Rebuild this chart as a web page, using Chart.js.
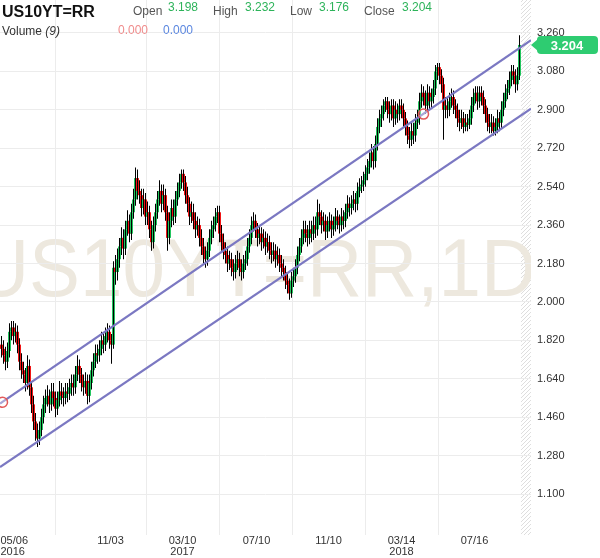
<!DOCTYPE html>
<html>
<head>
<meta charset="utf-8">
<script src="https://cdn.jsdelivr.net/npm/chart.js@4/dist/chart.umd.min.js"></script>
<style>
  html, body { margin: 0; padding: 0; background: #fff; }
  #wrap { position: relative; width: 600px; height: 558px; font-family: "Liberation Sans", Arial, sans-serif; }
  #wrap span { position: absolute; white-space: nowrap; font-size: 12px; line-height: 12px; }
  .lbl { color: #555; top: 5px; }
  .val { color: #2db35a; top: 1px; }
</style>
</head>
<body>
<div id="wrap">
  <canvas id="myChart" width="600" height="558"></canvas>
  <span style="left:2px;top:4px;font-size:16px;line-height:16px;font-weight:bold;color:#111">US10YT=RR</span>
  <span class="lbl" style="left:133px">Open</span><span class="val" style="left:168px">3.198</span>
  <span class="lbl" style="left:213px">High</span><span class="val" style="left:245px">3.232</span>
  <span class="lbl" style="left:290px">Low</span><span class="val" style="left:319px">3.176</span>
  <span class="lbl" style="left:364px">Close</span><span class="val" style="left:402px">3.204</span>
  <span style="left:2px;top:25px;color:#333">Volume <i>(9)</i></span>
  <span style="left:118px;top:24px;color:#f08c8c">0.000</span>
  <span style="left:163px;top:24px;color:#5b87e0">0.000</span>
</div>
<script>
/* DATA (one candle per ~2 trading days, May 2016 - Oct 2018) */

const firstOpen = 1.80

const closes = [
  1.78, 1.75, 1.72, 1.77, 1.86, 1.88, 1.84, 1.86, 1.80, 1.72,
  1.68, 1.66, 1.62, 1.70, 1.60, 1.52, 1.44, 1.40, 1.36, 1.40,
  1.46, 1.52, 1.55, 1.56, 1.52, 1.58, 1.55, 1.50, 1.54, 1.58,
  1.56, 1.55, 1.58, 1.57, 1.60, 1.62, 1.60, 1.66, 1.70, 1.66,
  1.62, 1.60, 1.63, 1.56, 1.62, 1.68, 1.72, 1.76, 1.75, 1.78,
  1.82, 1.80, 1.84, 1.86, 1.82, 1.80, 2.16, 2.14, 2.20, 2.26,
  2.30, 2.25, 2.34, 2.38, 2.32, 2.42, 2.48, 2.58, 2.52, 2.50,
  2.44, 2.48, 2.40, 2.42, 2.34, 2.28, 2.36, 2.42, 2.48, 2.52,
  2.46, 2.50, 2.42, 2.30, 2.38, 2.44, 2.40, 2.48, 2.52, 2.56,
  2.60, 2.56, 2.50, 2.46, 2.40, 2.42, 2.38, 2.34, 2.36, 2.30,
  2.26, 2.22, 2.20, 2.24, 2.30, 2.34, 2.36, 2.40, 2.42, 2.32,
  2.28, 2.24, 2.22, 2.18, 2.20, 2.16, 2.14, 2.18, 2.20, 2.16,
  2.14, 2.18, 2.20, 2.26, 2.30, 2.36, 2.38, 2.34, 2.30, 2.32,
  2.28, 2.30, 2.26, 2.28, 2.24, 2.22, 2.24, 2.20, 2.22, 2.18,
  2.16, 2.14, 2.10, 2.08, 2.04, 2.10, 2.12, 2.16, 2.22, 2.26,
  2.30, 2.34, 2.32, 2.30, 2.34, 2.32, 2.36, 2.34, 2.42, 2.40,
  2.36, 2.38, 2.33, 2.36, 2.38, 2.34, 2.36, 2.40, 2.38, 2.36,
  2.40, 2.38, 2.42, 2.46, 2.44, 2.46, 2.48, 2.46, 2.52, 2.54,
  2.55, 2.57, 2.60, 2.63, 2.66, 2.70, 2.66, 2.74, 2.82, 2.86,
  2.88, 2.92, 2.94, 2.90, 2.88, 2.92, 2.86, 2.90, 2.88, 2.92,
  2.90, 2.86, 2.82, 2.78, 2.76, 2.80, 2.78, 2.84, 2.86, 2.94,
  2.98, 2.96, 2.92, 2.98, 2.94, 2.96, 3.00, 3.08, 3.10, 3.06,
  3.02, 2.90, 2.92, 2.90, 2.94, 2.96, 2.92, 2.90, 2.86, 2.84,
  2.86, 2.82, 2.84, 2.83, 2.86, 2.92, 2.96, 2.98, 2.94, 2.98,
  2.96, 2.92, 2.88, 2.84, 2.82, 2.84, 2.80, 2.82, 2.86, 2.84,
  2.90, 2.94, 2.98, 3.00, 3.04, 3.08, 3.06, 3.02, 3.06, 3.204
]

const highs = [
  1.84, 1.82, 1.79, 1.81, 1.90, 1.91, 1.91, 1.90, 1.89, 1.83,
  1.76, 1.72, 1.69, 1.75, 1.73, 1.63, 1.56, 1.48, 1.43, 1.44,
  1.50, 1.56, 1.59, 1.61, 1.59, 1.62, 1.62, 1.58, 1.58, 1.63,
  1.62, 1.60, 1.62, 1.62, 1.64, 1.66, 1.66, 1.70, 1.75, 1.73,
  1.69, 1.66, 1.67, 1.66, 1.66, 1.72, 1.76, 1.80, 1.80, 1.82,
  1.86, 1.85, 1.88, 1.90, 1.89, 1.85, 2.19, 2.22, 2.25, 2.30,
  2.35, 2.34, 2.38, 2.43, 2.41, 2.46, 2.53, 2.63, 2.62, 2.57,
  2.53, 2.53, 2.51, 2.47, 2.45, 2.38, 2.40, 2.46, 2.52, 2.57,
  2.55, 2.55, 2.53, 2.45, 2.42, 2.48, 2.48, 2.52, 2.56, 2.60,
  2.62, 2.62, 2.59, 2.54, 2.49, 2.47, 2.46, 2.42, 2.40, 2.39,
  2.34, 2.30, 2.26, 2.28, 2.34, 2.38, 2.40, 2.44, 2.45, 2.45,
  2.36, 2.32, 2.28, 2.26, 2.24, 2.23, 2.20, 2.22, 2.24, 2.23,
  2.20, 2.22, 2.24, 2.30, 2.34, 2.40, 2.42, 2.41, 2.37, 2.36,
  2.35, 2.34, 2.33, 2.32, 2.31, 2.28, 2.28, 2.27, 2.26, 2.25,
  2.22, 2.20, 2.17, 2.14, 2.11, 2.14, 2.16, 2.20, 2.26, 2.30,
  2.34, 2.38, 2.38, 2.36, 2.38, 2.38, 2.40, 2.40, 2.48, 2.46,
  2.43, 2.42, 2.41, 2.40, 2.42, 2.41, 2.40, 2.44, 2.43, 2.41,
  2.44, 2.43, 2.46, 2.50, 2.49, 2.50, 2.52, 2.51, 2.56, 2.58,
  2.59, 2.61, 2.64, 2.67, 2.70, 2.74, 2.73, 2.78, 2.86, 2.90,
  2.92, 2.95, 2.96, 2.96, 2.94, 2.95, 2.95, 2.94, 2.93, 2.95,
  2.95, 2.93, 2.89, 2.85, 2.82, 2.84, 2.84, 2.88, 2.90, 2.98,
  3.02, 3.01, 2.99, 3.02, 3.01, 3.00, 3.04, 3.11, 3.12, 3.12,
  3.09, 3.05, 2.96, 2.96, 2.98, 3.00, 2.99, 2.95, 2.93, 2.90,
  2.90, 2.89, 2.88, 2.88, 2.90, 2.96, 3.00, 3.01, 3.01, 3.01,
  3.01, 2.99, 2.95, 2.91, 2.88, 2.88, 2.87, 2.86, 2.90, 2.89,
  2.94, 2.98, 3.02, 3.04, 3.08, 3.11, 3.11, 3.09, 3.10, 3.25
]

const lows = [
  1.74, 1.71, 1.68, 1.69, 1.74, 1.82, 1.80, 1.81, 1.76, 1.68,
  1.64, 1.62, 1.58, 1.59, 1.56, 1.48, 1.40, 1.35, 1.32, 1.33,
  1.37, 1.43, 1.48, 1.51, 1.48, 1.49, 1.51, 1.46, 1.47, 1.51,
  1.52, 1.51, 1.52, 1.53, 1.54, 1.56, 1.56, 1.57, 1.63, 1.62,
  1.58, 1.56, 1.57, 1.52, 1.53, 1.59, 1.65, 1.69, 1.71, 1.72,
  1.75, 1.76, 1.77, 1.81, 1.78, 1.71, 1.78, 2.08, 2.10, 2.16,
  2.22, 2.20, 2.22, 2.31, 2.28, 2.29, 2.39, 2.45, 2.48, 2.46,
  2.40, 2.41, 2.36, 2.36, 2.30, 2.24, 2.25, 2.33, 2.39, 2.45,
  2.42, 2.43, 2.38, 2.24, 2.27, 2.35, 2.36, 2.37, 2.45, 2.49,
  2.53, 2.52, 2.46, 2.42, 2.36, 2.37, 2.34, 2.30, 2.31, 2.26,
  2.22, 2.18, 2.16, 2.17, 2.21, 2.27, 2.30, 2.33, 2.37, 2.28,
  2.24, 2.20, 2.18, 2.14, 2.15, 2.12, 2.10, 2.11, 2.15, 2.12,
  2.10, 2.11, 2.15, 2.17, 2.23, 2.27, 2.33, 2.30, 2.26, 2.27,
  2.24, 2.25, 2.22, 2.23, 2.20, 2.18, 2.19, 2.16, 2.17, 2.14,
  2.12, 2.10, 2.06, 2.04, 2.01, 2.02, 2.07, 2.09, 2.13, 2.19,
  2.23, 2.27, 2.28, 2.26, 2.27, 2.28, 2.29, 2.30, 2.31, 2.36,
  2.32, 2.33, 2.29, 2.30, 2.33, 2.30, 2.31, 2.33, 2.34, 2.32,
  2.33, 2.34, 2.35, 2.39, 2.40, 2.41, 2.43, 2.42, 2.43, 2.49,
  2.51, 2.52, 2.54, 2.57, 2.60, 2.63, 2.62, 2.63, 2.71, 2.79,
  2.82, 2.85, 2.89, 2.86, 2.84, 2.85, 2.82, 2.83, 2.84, 2.85,
  2.86, 2.82, 2.78, 2.74, 2.72, 2.73, 2.74, 2.75, 2.81, 2.83,
  2.91, 2.92, 2.88, 2.89, 2.90, 2.91, 2.93, 2.97, 3.04, 3.02,
  2.98, 2.76, 2.86, 2.86, 2.87, 2.91, 2.88, 2.86, 2.82, 2.80,
  2.81, 2.79, 2.80, 2.80, 2.81, 2.83, 2.89, 2.93, 2.90, 2.91,
  2.92, 2.88, 2.84, 2.80, 2.79, 2.79, 2.78, 2.78, 2.79, 2.80,
  2.81, 2.87, 2.91, 2.95, 2.97, 3.01, 3.02, 2.98, 2.99, 3.04
]

// candle index of each date label
const dateTicks = [-0.5, 54.5, 90.5, 127.5, 163.5, 200, 236.5]
const dateLabels = [['05/06', '2016'], '11/03', ['03/10', '2017'], '07/10', '11/10', ['03/14', '2018'], '07/16']

const priceTicks = [1.100, 1.280, 1.460, 1.640, 1.820, 2.000, 2.180, 2.360, 2.540, 2.720, 2.900, 3.080, 3.260]

// trend channel, values at the left and right edge of the plot
const channelIdx = [-0.75, 264.75]
const upperChannel = [1.524, 3.226]
const lowerChannel = [1.226, 2.906]
// the two points the upper line was drawn through
const anchorIdx = [0.5, 211]
const anchorVals = [1.53, 2.88]

const lastPrice = 3.204

/* CHART */

const GREEN = '#22c55e', RED = '#f01414'
const opens = closes.map((c, i) => i ? closes[i - 1] : firstOpen)

const noPad = s => { s.paddingLeft = s.paddingRight = s.paddingTop = s.paddingBottom = 0 }

const backdrop = {
  id: 'backdrop',
  beforeDraw(chart) {
    const { ctx, chartArea: a, scales: { x } } = chart
    // hatched "future" strip
    const left = Math.round(x.getPixelForValue(closes.length - 0.5))
    ctx.save()
    ctx.beginPath()
    ctx.rect(left, a.top, a.right - left, a.bottom - a.top)
    ctx.clip()
    ctx.strokeStyle = '#dedede'
    ctx.lineWidth = 1
    for (let y = a.top - 20; y < a.bottom + 20; y += 4) {
      ctx.beginPath()
      ctx.moveTo(left, y + 14)
      ctx.lineTo(left + 14, y)
      ctx.stroke()
    }
    ctx.restore()

    // big symbol watermark
    ctx.save()
    ctx.beginPath()
    ctx.rect(a.left, a.top, a.right - a.left, a.bottom - a.top)
    ctx.clip()
    ctx.font = '82px "Liberation Sans", Arial, sans-serif'
    ctx.fillStyle = '#ede8de'
    ctx.fillText('US10YT=RR,1D', -26, 296, 562)
    ctx.restore()
  }
}

const priceTag = {
  id: 'priceTag',
  afterDraw(chart) {
    const { ctx, scales: { y } } = chart
    const py = Math.round(y.getPixelForValue(lastPrice))
    ctx.save()
    ctx.fillStyle = '#2ecc71'
    ctx.beginPath()
    ctx.roundRect(537, py - 9, 61, 18, 4)
    ctx.fill()
    ctx.beginPath()
    ctx.moveTo(531, py)
    ctx.lineTo(538, py - 6)
    ctx.lineTo(538, py + 6)
    ctx.closePath()
    ctx.fill()
    ctx.fillStyle = '#fff'
    ctx.font = 'bold 13px "Liberation Sans", Arial, sans-serif'
    ctx.textAlign = 'center'
    ctx.textBaseline = 'middle'
    ctx.fillText(lastPrice.toFixed(3), 567, py + 1)
    ctx.restore()
  }
}

var ctx = document.getElementById('myChart').getContext('2d');
var myChart = new Chart(ctx, {
  type: 'bar',
  data: {
    datasets: [
      {
        type: 'line',
        order: 0,
        data: anchorIdx.map((x, i) => ({ x: x, y: anchorVals[i] })),
        showLine: false,
        pointRadius: 5,
        pointBorderWidth: 1.5,
        pointBorderColor: '#e25a5a',
        pointBackgroundColor: 'rgba(255,255,255,0.35)'
      },
      {
        type: 'line',
        order: 1,
        data: channelIdx.map((x, i) => ({ x: x, y: upperChannel[i] })),
        borderColor: '#7b78c2',
        borderWidth: 2.2,
        pointRadius: 0
      },
      {
        type: 'line',
        order: 1,
        data: channelIdx.map((x, i) => ({ x: x, y: lowerChannel[i] })),
        borderColor: '#7b78c2',
        borderWidth: 2.2,
        pointRadius: 0
      },
      {
        // wicks, one pixel through the middle of each body
        order: 2,
        grouped: false,
        barThickness: 1,
        inflateAmount: 0,
        data: closes.map((c, i) => ({
          x: i,
          y: [Math.min(lows[i], opens[i], c), Math.max(highs[i], opens[i], c)]
        })),
        backgroundColor: '#000',
        borderWidth: 0
      },
      {
        // bodies
        order: 3,
        grouped: false,
        barThickness: 3,
        inflateAmount: 0,
        data: closes.map((c, i) => ({ x: i, y: [opens[i], c] })),
        backgroundColor: closes.map((c, i) => c >= opens[i] ? GREEN : RED),
        borderWidth: 0
      }
    ]
  },
  options: {
    responsive: false,
    animation: false,
    devicePixelRatio: 1,
    layout: { padding: 0, autoPadding: false },
    plugins: {
      legend: { display: false },
      tooltip: { enabled: false }
    },
    scales: {
      x: {
        type: 'linear',
        offset: false,
        min: -0.75,
        max: 264.75,
        afterBuildTicks: s => { s.ticks = dateTicks.concat([264.75]).map(v => ({ value: v })) },
        afterFit: s => { s.height = 23; noPad(s) },
        grid: {
          drawTicks: false,
          color: c => (c.index === dateTicks.length) ? 'rgba(0,0,0,0)' : '#ececec'
        },
        border: { display: false },
        ticks: {
          autoSkip: false,
          maxRotation: 0,
          align: 'inner',
          padding: 0,
          color: '#333',
          font: { family: '"Liberation Sans", Arial, sans-serif', size: 11, lineHeight: 1 },
          callback: (v, i) => i < dateLabels.length ? dateLabels[i] : ''
        }
      },
      y: {
        position: 'right',
        min: 0.9079,
        max: 3.4146,
        afterBuildTicks: s => { s.ticks = priceTicks.map(v => ({ value: v })) },
        afterFit: s => { s.width = 69; noPad(s) },
        grid: { drawTicks: false, color: '#ececec' },
        border: { display: false },
        ticks: {
          padding: 6,
          color: '#333',
          font: { family: '"Liberation Sans", Arial, sans-serif', size: 11 },
          callback: v => v.toFixed(3)
        }
      }
    }
  },
  plugins: [backdrop, priceTag]
});
</script>
</body>
</html>
